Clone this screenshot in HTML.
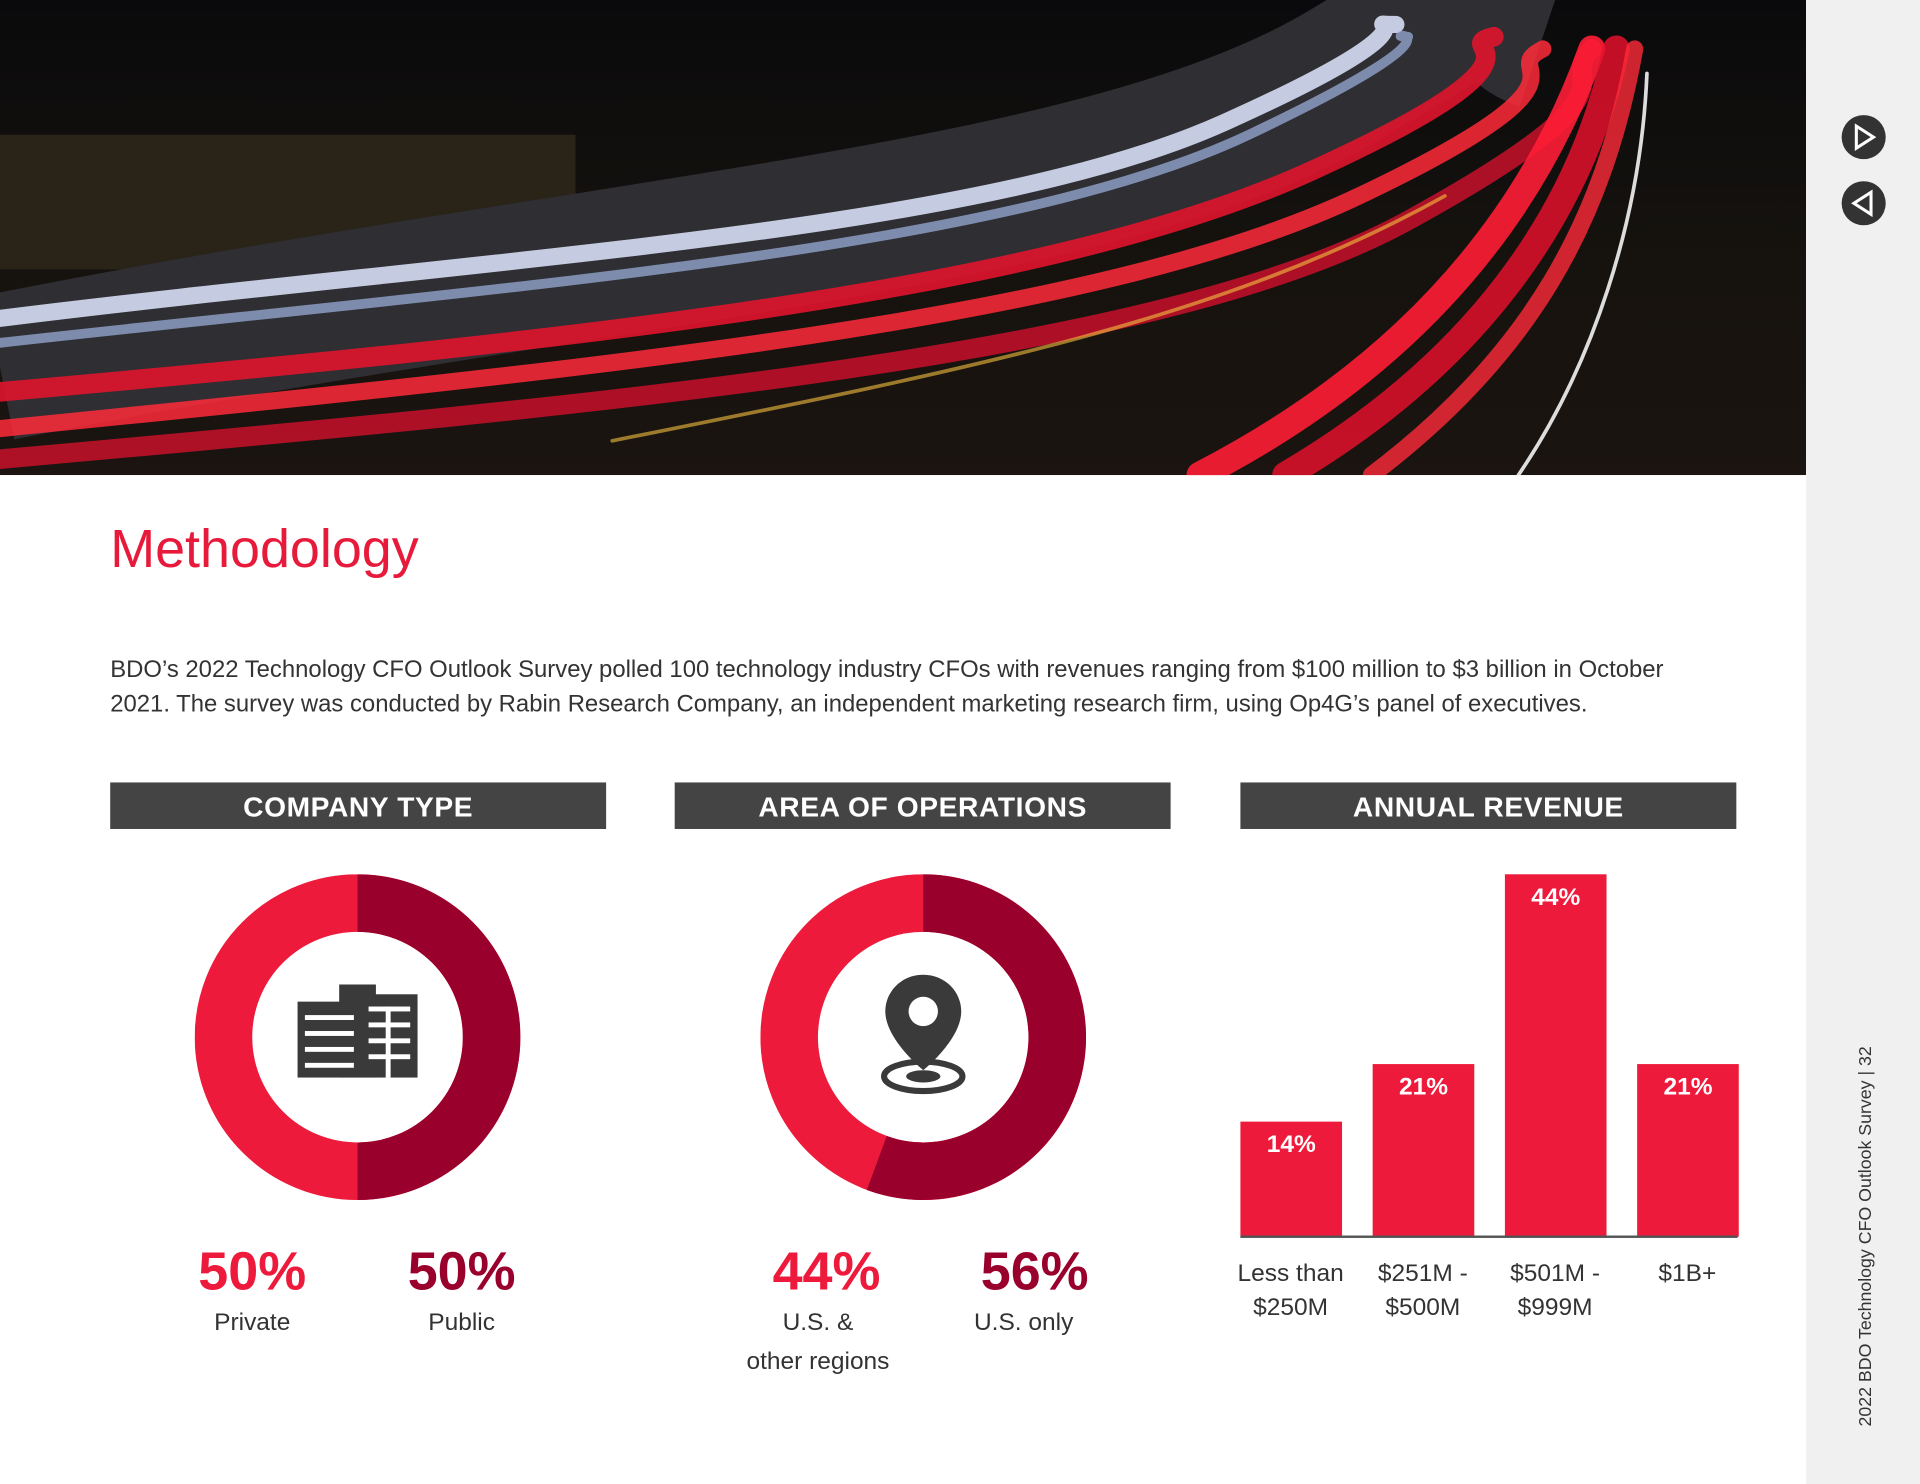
<!DOCTYPE html>
<html><head><meta charset="utf-8"><style>
html,body{margin:0;padding:0;background:#fff;overflow:hidden}
#s{position:absolute;left:0;top:0;width:1568px;height:1212px;transform:scale(1.22449);transform-origin:0 0;font-family:"Liberation Sans",sans-serif;color:#333}
.a{position:absolute}
.hd{position:absolute;top:639px;height:38px;width:405px;background:#444;color:#fff;font-size:23px;font-weight:bold;text-align:center;line-height:41px;letter-spacing:0.5px}
.pc{position:absolute;font-size:44px;font-weight:bold;text-align:center;width:160px;top:1014px}
.lb{position:absolute;font-size:20px;text-align:center;width:200px;line-height:32px;color:#333}
.bar{position:absolute;width:83px;background:#ed1a3b;color:#fff;font-weight:bold;font-size:20px;text-align:center;bottom:202px}
.bar span{display:block;margin-top:8px}
.cl{position:absolute;top:1026px;width:110px;text-align:center;font-size:20px;line-height:28px;color:#333}
</style></head><body><div id="s">
<svg class="a" style="left:0;top:0" width="1475" height="388" viewBox="0 0 1475 388">
<defs><linearGradient id="g" x1="0" y1="0" x2="0" y2="1"><stop offset="0" stop-color="#0a0a0c"/><stop offset="0.5" stop-color="#15120e"/><stop offset="1" stop-color="#1b1410"/></linearGradient></defs>
<rect width="1475" height="388" fill="url(#g)"/>
<rect x="0" y="110" width="470" height="110" fill="#2a2418"/>
<path d="M0 300 C500 200 900 180 1100 60 S1200 10 1260 30" stroke="#2e2e33" stroke-width="120" fill="none"/>
<g fill="none" stroke-linecap="round">
<path d="M0 260 C400 210 800 190 1000 100 S1100 20 1140 20" stroke="#dfe6ff" stroke-width="14" opacity="0.85"/>
<path d="M0 280 C400 235 820 205 1020 110 S1120 30 1150 30" stroke="#9fb4e0" stroke-width="8" opacity="0.7"/>
<path d="M0 320 C450 280 850 240 1070 140 S1180 40 1220 30" stroke="#e0142c" stroke-width="16" opacity="0.9"/>
<path d="M0 350 C500 300 900 260 1110 160 S1220 60 1260 40" stroke="#ff2a3a" stroke-width="14" opacity="0.85"/>
<path d="M0 375 C500 330 950 290 1150 180 S1270 70 1300 40" stroke="#c8102a" stroke-width="16" opacity="0.85"/>
<path d="M980 388 C1150 300 1250 180 1300 40" stroke="#ff1d35" stroke-width="22" opacity="0.9"/>
<path d="M1050 388 C1200 300 1290 180 1320 40" stroke="#e3102c" stroke-width="22" opacity="0.85"/>
<path d="M1120 388 C1250 290 1310 180 1335 40" stroke="#ff2a3a" stroke-width="14" opacity="0.8"/>
<path d="M1240 388 C1300 300 1340 180 1345 60" stroke="#ddd" stroke-width="3"/>
<path d="M500 360 C800 300 1000 260 1180 160" stroke="#f5c040" stroke-width="3" opacity="0.6"/>
</g></svg>
<div class="a" style="left:1475px;top:0;width:93px;height:1212px;background:#f0f0f0"></div>
<svg class="a" style="left:1502px;top:92px" width="40" height="95"><circle cx="20" cy="20" r="18" fill="#333"/><path d="M14 11 L28 20 L14 29 Z" fill="none" stroke="#fff" stroke-width="2.5"/><circle cx="20" cy="74" r="18" fill="#333"/><path d="M26 65 L12 74 L26 83 Z" fill="none" stroke="#fff" stroke-width="2.5"/></svg>
<div class="a" style="left:1525px;top:1165px;transform:rotate(-90deg);transform-origin:0 0;white-space:nowrap;font-size:14.5px;color:#333;margin-left:-9px">2022 BDO Technology CFO Outlook Survey | 32</div>
<div class="a" style="left:90px;top:424px;font-size:44px;color:#e81a3b">Methodology</div>
<div class="a" style="left:90px;top:533px;width:1290px;font-size:19.5px;line-height:28px;color:#333">BDO’s 2022 Technology CFO Outlook Survey polled 100 technology industry CFOs with revenues ranging from $100 million to $3 billion in October 2021. The survey was conducted by Rabin Research Company, an independent marketing research firm, using Op4G’s panel of executives.</div>
<div class="hd" style="left:90px">COMPANY TYPE</div>
<div class="hd" style="left:551px">AREA OF OPERATIONS</div>
<div class="hd" style="left:1013px">ANNUAL REVENUE</div>
<svg class="a" style="left:159px;top:714px" width="266" height="266"><circle cx="133" cy="133" r="109.5" fill="none" stroke="#ed1a3b" stroke-width="47"/><path d="M133 0 A133 133 0 0 1 133 266 L133 219 A86 86 0 0 0 133 47 Z" fill="#9a002c"/>
<g fill="#3a3a3a"><rect x="84" y="104" width="52" height="62"/><rect x="118" y="90" width="30" height="76"/><rect x="136" y="98" width="46" height="68"/></g>
<g fill="#fff"><rect x="90" y="115" width="40" height="4"/><rect x="90" y="128" width="40" height="4"/><rect x="90" y="141" width="40" height="4"/><rect x="90" y="154" width="40" height="4"/><rect x="142" y="108" width="34" height="4"/><rect x="142" y="121" width="34" height="4"/><rect x="142" y="134" width="34" height="4"/><rect x="142" y="147" width="34" height="4"/><rect x="156" y="108" width="4" height="58"/></g></svg>
<svg class="a" style="left:621px;top:714px" width="266" height="266"><circle cx="133" cy="133" r="109.5" fill="none" stroke="#ed1a3b" stroke-width="47"/>
<path d="M133 0 A133 133 0 1 1 86.9 257.8 L103.2 213.7 A86 86 0 1 0 133 47 Z" fill="#9a002c"/>
<path d="M133 82 C115 82 102 96 102 112 C102 135 133 160 133 160 C133 160 164 135 164 112 C164 96 151 82 133 82 Z" fill="#3a3a3a"/><circle cx="133" cy="112" r="12" fill="#fff"/>
<ellipse cx="133" cy="165" rx="32" ry="12" fill="none" stroke="#3a3a3a" stroke-width="5"/><ellipse cx="133" cy="165" rx="14" ry="5" fill="#3a3a3a"/></svg>
<div class="pc" style="left:126px;color:#ed1a3b">50%</div>
<div class="pc" style="left:297px;color:#9a002c">50%</div>
<div class="lb" style="left:106px;top:1064px">Private</div>
<div class="lb" style="left:277px;top:1064px">Public</div>
<div class="pc" style="left:595px;color:#ed1a3b">44%</div>
<div class="pc" style="left:765px;color:#9a002c">56%</div>
<div class="lb" style="left:568px;top:1064px">U.S. &amp;<br>other regions</div>
<div class="lb" style="left:736px;top:1064px">U.S. only</div>
<div class="bar" style="left:1013px;top:916px"><span>14%</span></div>
<div class="bar" style="left:1121px;top:869px"><span>21%</span></div>
<div class="bar" style="left:1229px;top:714px"><span>44%</span></div>
<div class="bar" style="left:1337px;top:869px"><span>21%</span></div>
<div class="a" style="left:1013px;top:1009px;width:406px;height:2px;background:#555"></div>
<div class="cl" style="left:999px">Less than<br>$250M</div>
<div class="cl" style="left:1107px">$251M -<br>$500M</div>
<div class="cl" style="left:1215px">$501M -<br>$999M</div>
<div class="cl" style="left:1323px">$1B+</div>
</div></body></html>
